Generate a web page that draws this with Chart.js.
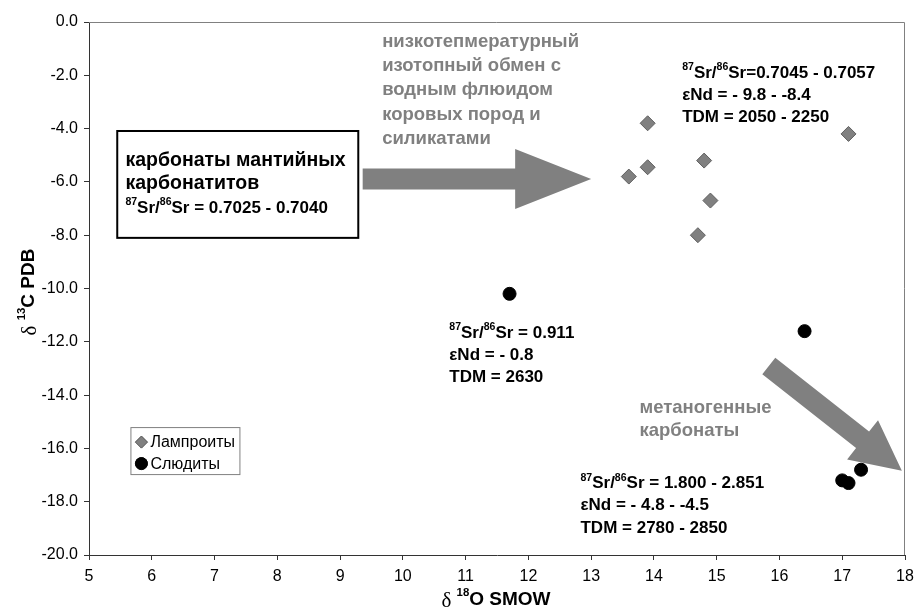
<!DOCTYPE html>
<html>
<head>
<meta charset="utf-8">
<script src="https://cdn.jsdelivr.net/npm/chart.js@4.4.0/dist/chart.umd.min.js"></script>
<style>
  html, body { margin: 0; padding: 0; background: #fff; }
</style>
</head>
<body>
<canvas id="grafico" width="916" height="610"></canvas>
<script>
// данные
const seriesNames = ['Лампроиты', 'Слюдиты'];
const lamproitX = [13.9, 17.1, 14.8, 13.9, 13.6, 14.9, 14.7];
const lamproitY = [-3.8, -4.2, -5.2, -5.45, -5.8, -6.7, -8.0];
const micaX = [11.7, 16.4, 17.3, 17.0, 17.1];
const micaY = [-10.2, -11.6, -16.8, -17.2, -17.3];
const xTicks = [5, 6, 7, 8, 9, 10, 11, 12, 13, 14, 15, 16, 17, 18];
const yTicks = [0, -2, -4, -6, -8, -10, -12, -14, -16, -18, -20];

const FAMILY = '"Liberation Sans", Arial, sans-serif';
const SERIF = '"Liberation Serif", "DejaVu Serif", serif';
const GRAY = '#808080';

// подписи и стрелки (координаты в единицах осей)
const grayBlocks = [
    { x: 9.67, y: -0.75, step: 24.2, size: 18.5,
      lines: ['низкотепмературный', 'изотопный обмен с', 'водным флюидом', 'коровых пород и', 'силикатами'] },
    { x: 13.77, y: -14.48, step: 23, size: 18.5,
      lines: ['метаногенные', 'карбонаты'] }
];
const blackBlocks = [
    { x: 14.45, y: -1.91, step: 22, size: 17,
      lines: ['^87^Sr/^86^Sr=0.7045 - 0.7057', 'εNd = - 9.8 - -8.4', 'TDM = 2050 - 2250'] },
    { x: 10.74, y: -11.67, step: 22, size: 17,
      lines: ['^87^Sr/^86^Sr = 0.911', 'εNd = - 0.8', 'TDM = 2630'] },
    { x: 12.83, y: -17.31, step: 22.5, size: 17,
      lines: ['^87^Sr/^86^Sr = 1.800 - 2.851', 'εNd = - 4.8 - -4.5', 'TDM = 2780 - 2850'] }
];

function drawRich(ctx, str, x, y, size, color) {
    const parts = str.split('^');
    let cx = x;
    ctx.fillStyle = color;
    ctx.textAlign = 'left';
    ctx.textBaseline = 'middle';
    parts.forEach((p, i) => {
        if (!p) return;
        const sup = i % 2 === 1;
        ctx.font = 'bold ' + (sup ? size * 0.62 : size) + 'px ' + FAMILY;
        ctx.fillText(p, cx, sup ? y - size * 0.33 : y);
        cx += ctx.measureText(p).width;
    });
}

function arrow(ctx, x1, y1, x2, y2, shaftHalf, headHalf, headLen) {
    const dx = x2 - x1, dy = y2 - y1, L = Math.hypot(dx, dy);
    const ux = dx / L, uy = dy / L, px = -uy, py = ux;
    const bx = x2 - ux * headLen, by = y2 - uy * headLen;
    ctx.beginPath();
    ctx.moveTo(x1 + px * shaftHalf, y1 + py * shaftHalf);
    ctx.lineTo(bx + px * shaftHalf, by + py * shaftHalf);
    ctx.lineTo(bx + px * headHalf, by + py * headHalf);
    ctx.lineTo(x2, y2);
    ctx.lineTo(bx - px * headHalf, by - py * headHalf);
    ctx.lineTo(bx - px * shaftHalf, by - py * shaftHalf);
    ctx.lineTo(x1 - px * shaftHalf, y1 - py * shaftHalf);
    ctx.closePath();
    ctx.fill();
}

// заголовок оси: δ + верхний индекс + текст
function axisTitle(ctx, sup, rest, cx, cy, rotate) {
    const size = 19;
    ctx.save();
    ctx.translate(cx, cy);
    if (rotate) ctx.rotate(-Math.PI / 2);
    ctx.textBaseline = 'middle';
    ctx.textAlign = 'left';
    ctx.fillStyle = '#000';
    const fD = (size + 2) + 'px ' + SERIF;
    const fS = 'bold ' + (size * 0.6) + 'px ' + FAMILY;
    const fR = 'bold ' + size + 'px ' + FAMILY;
    ctx.font = fD; const wD = ctx.measureText('δ ').width;
    ctx.font = fS; const wS = ctx.measureText(sup).width;
    ctx.font = fR; const wR = ctx.measureText(rest).width;
    let x = -(wD + wS + wR) / 2;
    ctx.font = fD; ctx.fillText('δ ', x, 1); x += wD;
    ctx.font = fS; ctx.fillText(sup, x, -size * 0.35); x += wS;
    ctx.font = fR; ctx.fillText(rest, x, 0);
    ctx.restore();
}

const fundo = {
    id: 'fundo',
    beforeDatasetsDraw(chart) {
        const ctx = chart.ctx, a = chart.chartArea;
        const sx = chart.scales.x, sy = chart.scales.y;
        ctx.save();
        // рамка области построения сверху и справа
        ctx.strokeStyle = GRAY;
        ctx.lineWidth = 1;
        ctx.beginPath();
        ctx.moveTo(a.left, a.top + 0.5);
        ctx.lineTo(a.right - 0.5, a.top + 0.5);
        ctx.lineTo(a.right - 0.5, a.bottom);
        ctx.stroke();
        // стрелки
        ctx.fillStyle = GRAY;
        arrow(ctx, sx.getPixelForValue(9.36), sy.getPixelForValue(-5.89),
            sx.getPixelForValue(13.0), sy.getPixelForValue(-5.89), 10.5, 30, 76);
        arrow(ctx, sx.getPixelForValue(15.83), sy.getPixelForValue(-12.91),
            sx.getPixelForValue(17.95), sy.getPixelForValue(-16.84), 10.5, 25, 50);
        ctx.restore();
    },
    afterDatasetsDraw(chart) {
        const ctx = chart.ctx;
        const sx = chart.scales.x, sy = chart.scales.y;
        ctx.save();
        // рамка с карбонатитами
        const bl = sx.getPixelForValue(5.45), br = sx.getPixelForValue(9.29);
        const bt = sy.getPixelForValue(-4.09), bb = sy.getPixelForValue(-8.1);
        ctx.strokeStyle = '#000';
        ctx.lineWidth = 2;
        ctx.strokeRect(bl, bt, br - bl, bb - bt);
        const tx = sx.getPixelForValue(5.58);
        const ty = sy.getPixelForValue(-5.22);
        drawRich(ctx, 'карбонаты мантийных', tx, ty, 19.5, '#000');
        drawRich(ctx, 'карбонатитов', tx, ty + 23, 19.5, '#000');
        drawRich(ctx, '^87^Sr/^86^Sr = 0.7025 - 0.7040', tx, ty + 47, 17, '#000');

        grayBlocks.forEach(b => {
            const x = sx.getPixelForValue(b.x), y = sy.getPixelForValue(b.y);
            b.lines.forEach((l, i) => drawRich(ctx, l, x, y + i * b.step, b.size, GRAY));
        });
        blackBlocks.forEach(b => {
            const x = sx.getPixelForValue(b.x), y = sy.getPixelForValue(b.y);
            b.lines.forEach((l, i) => drawRich(ctx, l, x, y + i * b.step, b.size, '#000'));
        });

        // легенда
        const lx = sx.getPixelForValue(5.66), ly = sy.getPixelForValue(-15.2);
        ctx.fillStyle = '#fff';
        ctx.fillRect(lx, ly, 109, 47);
        ctx.strokeStyle = GRAY;
        ctx.lineWidth = 1;
        ctx.strokeRect(lx + 0.5, ly + 0.5, 109, 47);
        chart.data.datasets.forEach((ds, i) => {
            const cy = ly + 15 + i * 21.5;
            Chart.helpers.drawPoint(ctx, {
                pointStyle: ds.pointStyle, radius: 6, borderWidth: 1, rotation: 0
            }, lx + 11, cy);
            ctx.fillStyle = ds.backgroundColor;
            ctx.strokeStyle = ds.borderColor;
            ctx.lineWidth = 1;
            ctx.fill();
            ctx.stroke();
            ctx.fillStyle = '#000';
            ctx.font = '16px ' + FAMILY;
            ctx.textBaseline = 'middle';
            ctx.textAlign = 'left';
            ctx.fillText(ds.label, lx + 20, cy + 1);
        });

        axisTitle(ctx, '18', 'O SMOW', 496, 600, false);
        axisTitle(ctx, '13', 'C PDB', 29, 292, true);
        ctx.restore();
    }
};

const ctx = document.getElementById('grafico').getContext('2d');
const chart = new Chart(ctx, {
    type: 'scatter',
    data: {
        datasets: [
            {
                label: seriesNames[0],
                data: lamproitX.map((x, i) => ({ x: x, y: lamproitY[i] })),
                pointStyle: 'rectRot',
                pointRadius: 7.5,
                backgroundColor: '#808080',
                borderColor: '#5f5f5f',
                borderWidth: 1
            },
            {
                label: seriesNames[1],
                data: micaX.map((x, i) => ({ x: x, y: micaY[i] })),
                pointStyle: 'circle',
                pointRadius: 6.5,
                backgroundColor: '#000',
                borderColor: '#000',
                borderWidth: 1
            }
        ]
    },
    options: {
        responsive: false,
        animation: false,
        devicePixelRatio: 1,
        layout: { padding: { top: 22, right: 11, left: 0, bottom: 0 } },
        plugins: {
            legend: { display: false },
            tooltip: { enabled: false }
        },
        scales: {
            x: {
                type: 'linear',
                min: 5,
                max: 18,
                afterBuildTicks: s => { s.ticks = xTicks.map(v => ({ value: v })); },
                afterFit: s => { s.height = 55; s.paddingLeft = 0; s.paddingRight = 0; },
                grid: { drawOnChartArea: false, drawTicks: true, tickLength: 5, color: '#333' },
                border: { color: '#333', width: 1 },
                ticks: { color: '#000', font: { family: FAMILY, size: 16 }, padding: 7, maxRotation: 0 }
            },
            y: {
                type: 'linear',
                min: -20,
                max: 0,
                afterBuildTicks: s => { s.ticks = yTicks.map(v => ({ value: v })); },
                afterFit: s => { s.width = 89; s.paddingTop = 0; s.paddingBottom = 0; },
                grid: { drawOnChartArea: false, drawTicks: true, tickLength: 5, color: '#333' },
                border: { color: '#333', width: 1 },
                ticks: {
                    color: '#000', font: { family: FAMILY, size: 16 }, padding: 6,
                    callback: v => (v === 0 ? 0 : v).toFixed(1)
                }
            }
        }
    },
    plugins: [fundo]
});
</script>
</body>
</html>
